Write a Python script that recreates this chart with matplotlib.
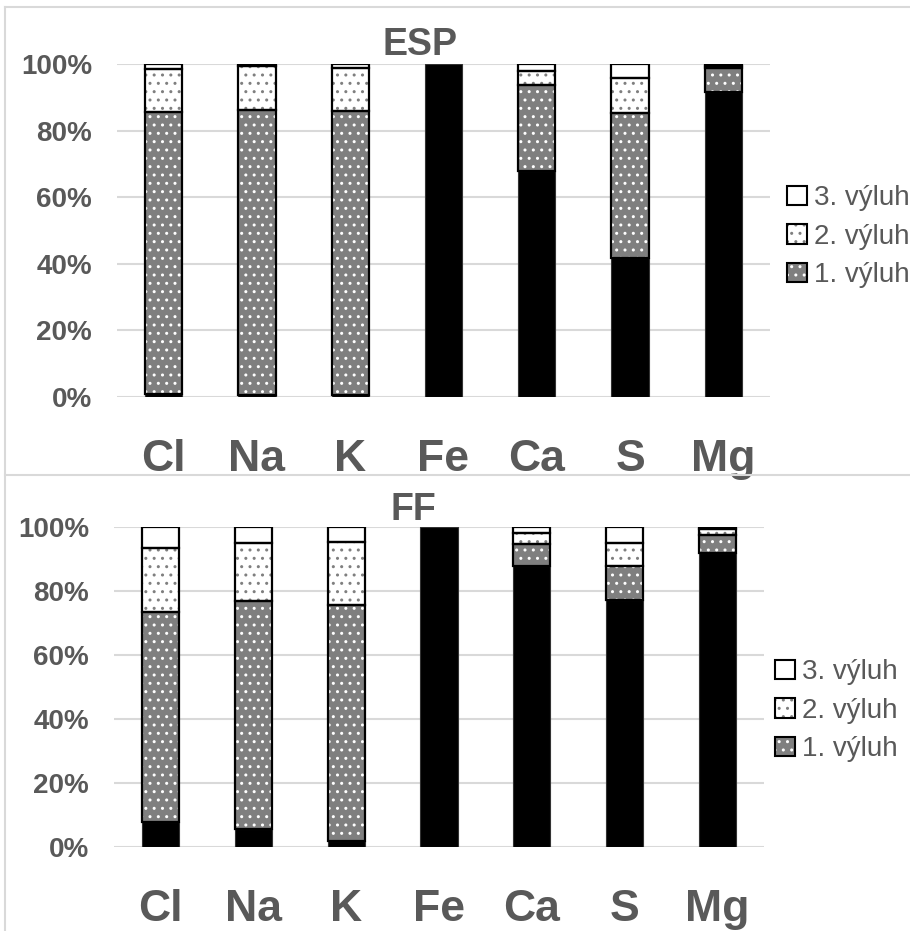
import numpy as np
import matplotlib
matplotlib.use("Agg")
import matplotlib.pyplot as plt
from matplotlib.patches import Patch
from matplotlib.lines import Line2D

# data (fractions of 100 %)
elements = ["Cl", "Na", "K", "Fe", "Ca", "S", "Mg"]

esp_base = [1.0, 0.5, 0.5, 100.0, 68.0, 41.6, 91.5]
esp_v1 = [84.7, 85.7, 85.4, 0.0, 25.7, 43.6, 7.3]
esp_v2 = [12.9, 13.2, 12.9, 0.0, 4.3, 10.7, 0.7]
esp_v3 = [1.4, 0.6, 1.2, 0.0, 2.0, 4.1, 0.5]

ff_base = [7.8, 5.5, 2.0, 100.0, 87.8, 77.2, 91.8]
ff_v1 = [65.7, 71.5, 73.7, 0.0, 6.9, 10.6, 5.6]
ff_v2 = [20.0, 17.9, 19.5, 0.0, 3.5, 7.1, 2.0]
ff_v3 = [6.5, 5.1, 4.8, 0.0, 1.8, 5.1, 0.6]

legend_labels = ["3. výluh", "2. výluh", "1. výluh"]

TXT = "#595959"
GRID = "#d9d9d9"
plt.rcParams["font.family"] = ["Liberation Sans", "DejaVu Sans"]
plt.rcParams["hatch.linewidth"] = 1.0

W, H = 910, 931
fig = plt.figure(figsize=(W / 100, H / 100), dpi=100)


def box(x0, y0, x1, y1):
    # pixel coords from the top-left -> figure fractions
    return [x0 / W, 1 - y1 / H, (x1 - x0) / W, (y1 - y0) / H]


def draw(ax, base, v1, v2, v3):
    x = np.arange(len(elements))
    w = 0.4
    b0 = np.zeros(len(x))
    b1 = b0 + np.array(base)
    b2 = b1 + np.array(v1)
    b3 = b2 + np.array(v2)
    ax.bar(x, base, w, bottom=b0, color="black", edgecolor="#333333", lw=0.8, zorder=3)
    # 1. vyluh: gray checker
    ax.bar(x, v1, w, bottom=b1, color="#7f7f7f", edgecolor="white", hatch="..", lw=0, zorder=3)
    # 2. vyluh: white with gray dots
    ax.bar(x, v2, w, bottom=b2, color="white", edgecolor="#7f7f7f", hatch="..", lw=0, zorder=3)
    ax.bar(x, v3, w, bottom=b3, color="white", lw=0, zorder=3)
    for vals, bot in [(v1, b1), (v2, b2), (v3, b3)]:
        vals = np.array(vals)
        m = vals > 0
        ax.bar(x[m], vals[m], w, bottom=bot[m], fill=False, edgecolor="black", lw=1.6, zorder=4)
    ax.set_xlim(-0.5, len(x) - 0.5)
    ax.set_ylim(0, 100)
    ax.set_yticks(np.arange(0, 101, 20))
    ax.set_yticklabels([f"{v}%" for v in range(0, 101, 20)])
    ax.set_xticks(x)
    ax.set_xticklabels(elements)
    ax.tick_params(length=0)
    ax.tick_params(axis="y", labelsize=20, labelcolor=TXT, pad=18)
    ax.tick_params(axis="x", labelsize=32, labelcolor=TXT, pad=30)
    for t in ax.get_xticklabels() + ax.get_yticklabels():
        t.set_fontweight("bold")
    for s in ax.spines.values():
        s.set_visible(False)
    ax.grid(axis="y", color=GRID, lw=1.5, zorder=0)
    ax.set_axisbelow(True)


def legend(ax, anchor):
    h3 = (Patch(facecolor="white", lw=0), Patch(fill=False, edgecolor="black", lw=1.5))
    h2 = (Patch(facecolor="white", edgecolor="#7f7f7f", hatch="..", lw=0),
          Patch(fill=False, edgecolor="black", lw=1.5))
    h1 = (Patch(facecolor="#7f7f7f", edgecolor="white", hatch="..", lw=0),
          Patch(fill=False, edgecolor="black", lw=1.5))
    leg = ax.legend([h3, h2, h1], legend_labels, loc="upper left", bbox_to_anchor=anchor,
                    bbox_transform=fig.transFigure, frameon=False, fontsize=20,
                    handlelength=0.7, handleheight=0.7, handletextpad=0.25,
                    labelspacing=0.45, borderaxespad=0)
    for t in leg.get_texts():
        t.set_color(TXT)


ax1 = fig.add_axes(box(117, 64, 770, 397))
draw(ax1, esp_base, esp_v1, esp_v2, esp_v3)
legend(ax1, (776 / W, 1 - 174 / H))
fig.text(420 / W, 1 - 45 / H, "ESP", ha="center", va="center", fontsize=27,
         fontweight="bold", color=TXT)

ax2 = fig.add_axes(box(114, 527, 764, 847))
draw(ax2, ff_base, ff_v1, ff_v2, ff_v3)
legend(ax2, (764 / W, 1 - 648 / H))
fig.text(413 / W, 1 - 510 / H, "FF", ha="center", va="center", fontsize=27,
         fontweight="bold", color=TXT)

# chart frames
for xs, ys in [([5, 5], [7, 931]), ([5, 910], [7, 7]), ([5, 910], [475, 475])]:
    fig.add_artist(Line2D([x / W for x in xs], [1 - y / H for y in ys], color=GRID, lw=1.5))

fig.savefig("out.png", dpi=100)
